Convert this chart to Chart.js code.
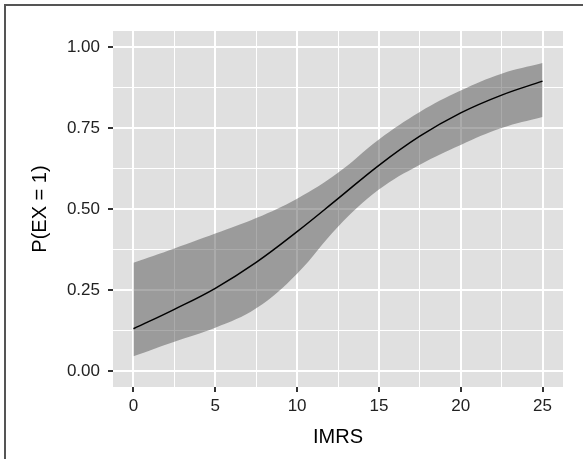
<!DOCTYPE html>
<html>
<head>
<meta charset="utf-8">
<script src="https://cdn.jsdelivr.net/npm/chart.js@4.4.1/dist/chart.umd.min.js"></script>
<style>
  body { margin: 0; background: #fff; }
  #frame { position: absolute; left: 4px; top: 4px; width: 700px; height: 700px; border: 2px solid #555; }
  #chart { position: absolute; left: 0; top: 0; }
</style>
</head>
<body>
<div id="frame"></div>
<canvas id="chart" width="583" height="459"></canvas>
<script>
// values
var imrs = [0, 2.5, 5, 7.5, 10, 12.5, 15, 17.5, 20, 22.5, 25];
var fitted = [0.13, 0.19, 0.255, 0.335, 0.43, 0.532, 0.635, 0.725, 0.797, 0.852, 0.895];
var upperCI = [0.334, 0.378, 0.424, 0.472, 0.532, 0.612, 0.715, 0.8, 0.866, 0.918, 0.951];
var lowerCI = [0.045, 0.09, 0.133, 0.193, 0.3, 0.445, 0.56, 0.637, 0.698, 0.75, 0.784];
var xTicks = [0, 2.5, 5, 7.5, 10, 12.5, 15, 17.5, 20, 22.5, 25];
var yTicks = [0, 0.125, 0.25, 0.375, 0.5, 0.625, 0.75, 0.875, 1];

function pts(ys) {
  return imrs.map(function (x, i) { return { x: x, y: ys[i] }; });
}
function isMajor(v, step) {
  return Math.abs(v / step - Math.round(v / step)) < 1e-6;
}

//grey panel behind the grid
var panelBg = {
  id: "panelBg",
  beforeDraw: function (chart) {
    var a = chart.chartArea;
    var ctx = chart.ctx;
    ctx.save();
    ctx.fillStyle = "#e0e0e0";
    ctx.fillRect(a.left, a.top, a.right - a.left, a.bottom - a.top);
    ctx.restore();
  },
};

var tickFont = { family: "Liberation Sans, Arial, sans-serif", size: 17 };
var titleFont = { family: "Liberation Sans, Arial, sans-serif", size: 20 };

var ctx = document.getElementById("chart").getContext("2d");
var myChart = new Chart(ctx, {
  type: "line",
  data: {
    datasets: [
      {
        label: "fit",
        data: pts(fitted),
        borderColor: "#000",
        borderWidth: 1.5,
        pointRadius: 0,
        fill: false,
        tension: 0.4,
      },
      {
        label: "upper",
        data: pts(upperCI),
        borderWidth: 0,
        borderColor: "rgba(0,0,0,0)",
        backgroundColor: "rgba(79,79,79,0.48)",
        pointRadius: 0,
        fill: "+1",
        tension: 0.4,
      },
      {
        label: "lower",
        data: pts(lowerCI),
        borderWidth: 0,
        borderColor: "rgba(0,0,0,0)",
        pointRadius: 0,
        fill: false,
        tension: 0.4,
      },
    ],
  },
  options: {
    responsive: false,
    animation: false,
    devicePixelRatio: 1,
    layout: { padding: { left: 0, right: 20, top: 31, bottom: 0 } },
    plugins: { legend: { display: false }, tooltip: { enabled: false } },
    scales: {
      x: {
        type: "linear",
        min: -1.25,
        max: 26.25,
        afterBuildTicks: function (scale) {
          scale.ticks = xTicks.map(function (v) { return { value: v }; });
        },
        afterFit: function (scale) {
          scale.height = 72;
        },
        border: { display: false },
        grid: {
          color: "#fff",
          lineWidth: function (c) { return isMajor(c.tick.value, 5) ? 2 : 1; },
          tickColor: function (c) { return isMajor(c.tick.value, 5) ? "#333" : "rgba(0,0,0,0)"; },
          tickWidth: 2,
          tickLength: 5,
        },
        ticks: {
          autoSkip: false,
          maxRotation: 0,
          padding: 4,
          color: "#222",
          font: tickFont,
          callback: function (v) { return isMajor(v, 5) ? String(v) : ""; },
        },
        title: {
          display: true,
          text: "IMRS",
          color: "#000",
          padding: { top: 0, bottom: 10 },
          font: titleFont,
        },
      },
      y: {
        min: -0.05,
        max: 1.05,
        afterBuildTicks: function (scale) {
          scale.ticks = yTicks.map(function (v) { return { value: v }; });
        },
        afterFit: function (scale) {
          scale.width = 113;
        },
        border: { display: false },
        grid: {
          color: "#fff",
          lineWidth: function (c) { return isMajor(c.tick.value, 0.25) ? 2 : 1; },
          tickColor: function (c) { return isMajor(c.tick.value, 0.25) ? "#333" : "rgba(0,0,0,0)"; },
          tickWidth: 2,
          tickLength: 5,
        },
        ticks: {
          autoSkip: false,
          padding: 8,
          color: "#222",
          font: tickFont,
          callback: function (v) { return isMajor(v, 0.25) ? v.toFixed(2) : ""; },
        },
        title: {
          display: true,
          text: "P(EX = 1)",
          color: "#000",
          padding: { top: 28, bottom: 0 },
          font: titleFont,
        },
      },
    },
  },
  plugins: [panelBg],
});
</script>
</body>
</html>
